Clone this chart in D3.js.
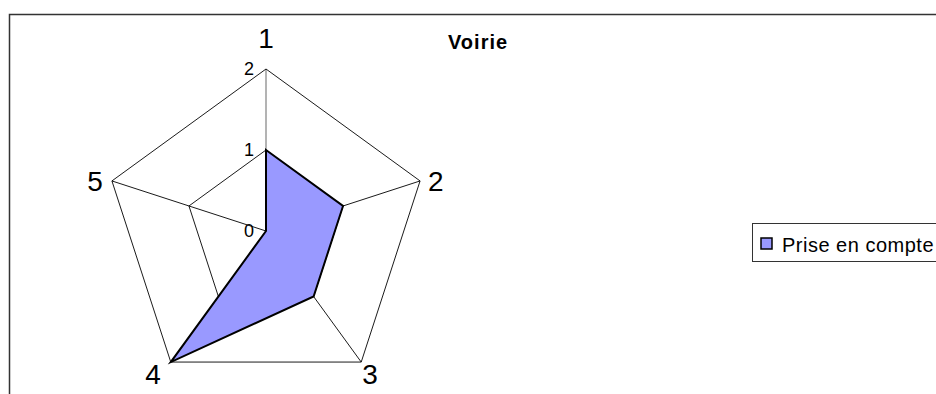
<!DOCTYPE html>
<html>
<head>
<meta charset="utf-8">
<script src="https://cdn.jsdelivr.net/npm/d3@7"></script>
<style>
  body { margin: 0; background: #fff; }
  svg { display: block; font-family: "Liberation Sans", Arial, sans-serif; }
</style>
</head>
<body>
<div class="canvas"></div>
<script>
// Data
const axes = ["1", "2", "3", "4", "5"];
const values = [1, 1, 1, 2, 0];
const ticks = [0, 1, 2];
const seriesName = "Prise en compte";
const title = "Voirie";

// Dimensions
const W = 936, H = 394;
const cx = 266, cy = 231, R = 162;

const svg = d3.select(".canvas")
    .append("svg")
    .attr("width", W)
    .attr("height", H);

// chart frame (runs off right and bottom edge)
svg.append("rect")
    .attr("x", 9.5).attr("y", 14.5)
    .attr("width", 1000).attr("height", 500)
    .attr("fill", "none")
    .attr("stroke", "#333")
    .attr("stroke-width", 1.5);

const r = d3.scaleLinear().domain([0, 2]).range([0, R]);
const angle = d3.scalePoint().domain(axes).range([0, 2 * Math.PI * 4 / 5]);

const pt = (a, v) => [cx + r(v) * Math.sin(angle(a)), cy - r(v) * Math.cos(angle(a))];

const g = svg.append("g");

// grid pentagons
g.selectAll(".ring")
    .data(ticks.filter(t => t > 0))
    .join("polygon")
    .attr("points", t => axes.map(a => pt(a, t).join(",")).join(" "))
    .attr("fill", "none")
    .attr("stroke", "#000")
    .attr("stroke-width", 0.9);

// spokes
g.selectAll(".spoke")
    .data(axes)
    .join("line")
    .attr("x1", cx).attr("y1", cy)
    .attr("x2", a => pt(a, 2)[0])
    .attr("y2", a => pt(a, 2)[1])
    .attr("stroke", "#000")
    .attr("stroke-width", a => a === "1" ? 0.6 : 0.9);

// data area
g.append("polygon")
    .attr("points", axes.map((a, i) => pt(a, values[i]).join(",")).join(" "))
    .attr("fill", "#9999ff")
    .attr("stroke", "#000")
    .attr("stroke-width", 2)
    .attr("stroke-linejoin", "miter");

// tick labels on the first spoke
g.selectAll(".tick")
    .data(ticks)
    .join("text")
    .attr("x", cx - 12)
    .attr("y", t => cy - r(t))
    .attr("dy", "0.35em")
    .attr("text-anchor", "end")
    .style("font-size", "18px")
    .text(t => t);

// category labels
const labelPos = {
    "1": { dx: 0, dy: -31, anchor: "middle" },
    "2": { dx: 8, dy: 0, anchor: "start" },
    "3": { dx: 1, dy: 12, anchor: "start" },
    "4": { dx: -10, dy: 12, anchor: "end" },
    "5": { dx: -9, dy: 0, anchor: "end" }
};
g.selectAll(".cat")
    .data(axes)
    .join("text")
    .attr("x", a => pt(a, 2)[0] + labelPos[a].dx)
    .attr("y", a => pt(a, 2)[1] + labelPos[a].dy)
    .attr("dy", "0.35em")
    .attr("text-anchor", a => labelPos[a].anchor)
    .style("font-size", "28px")
    .text(a => a);

// title
svg.append("text")
    .attr("x", 448).attr("y", 49)
    .style("font-size", "20px")
    .style("font-weight", "bold")
    .style("letter-spacing", "1px")
    .text(title);

// legend
const lg = svg.append("g");
lg.append("rect")
    .attr("x", 752.5).attr("y", 223.5)
    .attr("width", 300).attr("height", 38)
    .attr("fill", "#fff")
    .attr("stroke", "#333")
    .attr("stroke-width", 1);
lg.append("rect")
    .attr("x", 761).attr("y", 238)
    .attr("width", 11).attr("height", 11)
    .attr("fill", "#9999ff")
    .attr("stroke", "#000")
    .attr("stroke-width", 1.5);
lg.append("text")
    .attr("x", 782).attr("y", 252)
    .style("font-size", "20px")
    .style("letter-spacing", "0.5px")
    .text(seriesName);
</script>
</body>
</html>
